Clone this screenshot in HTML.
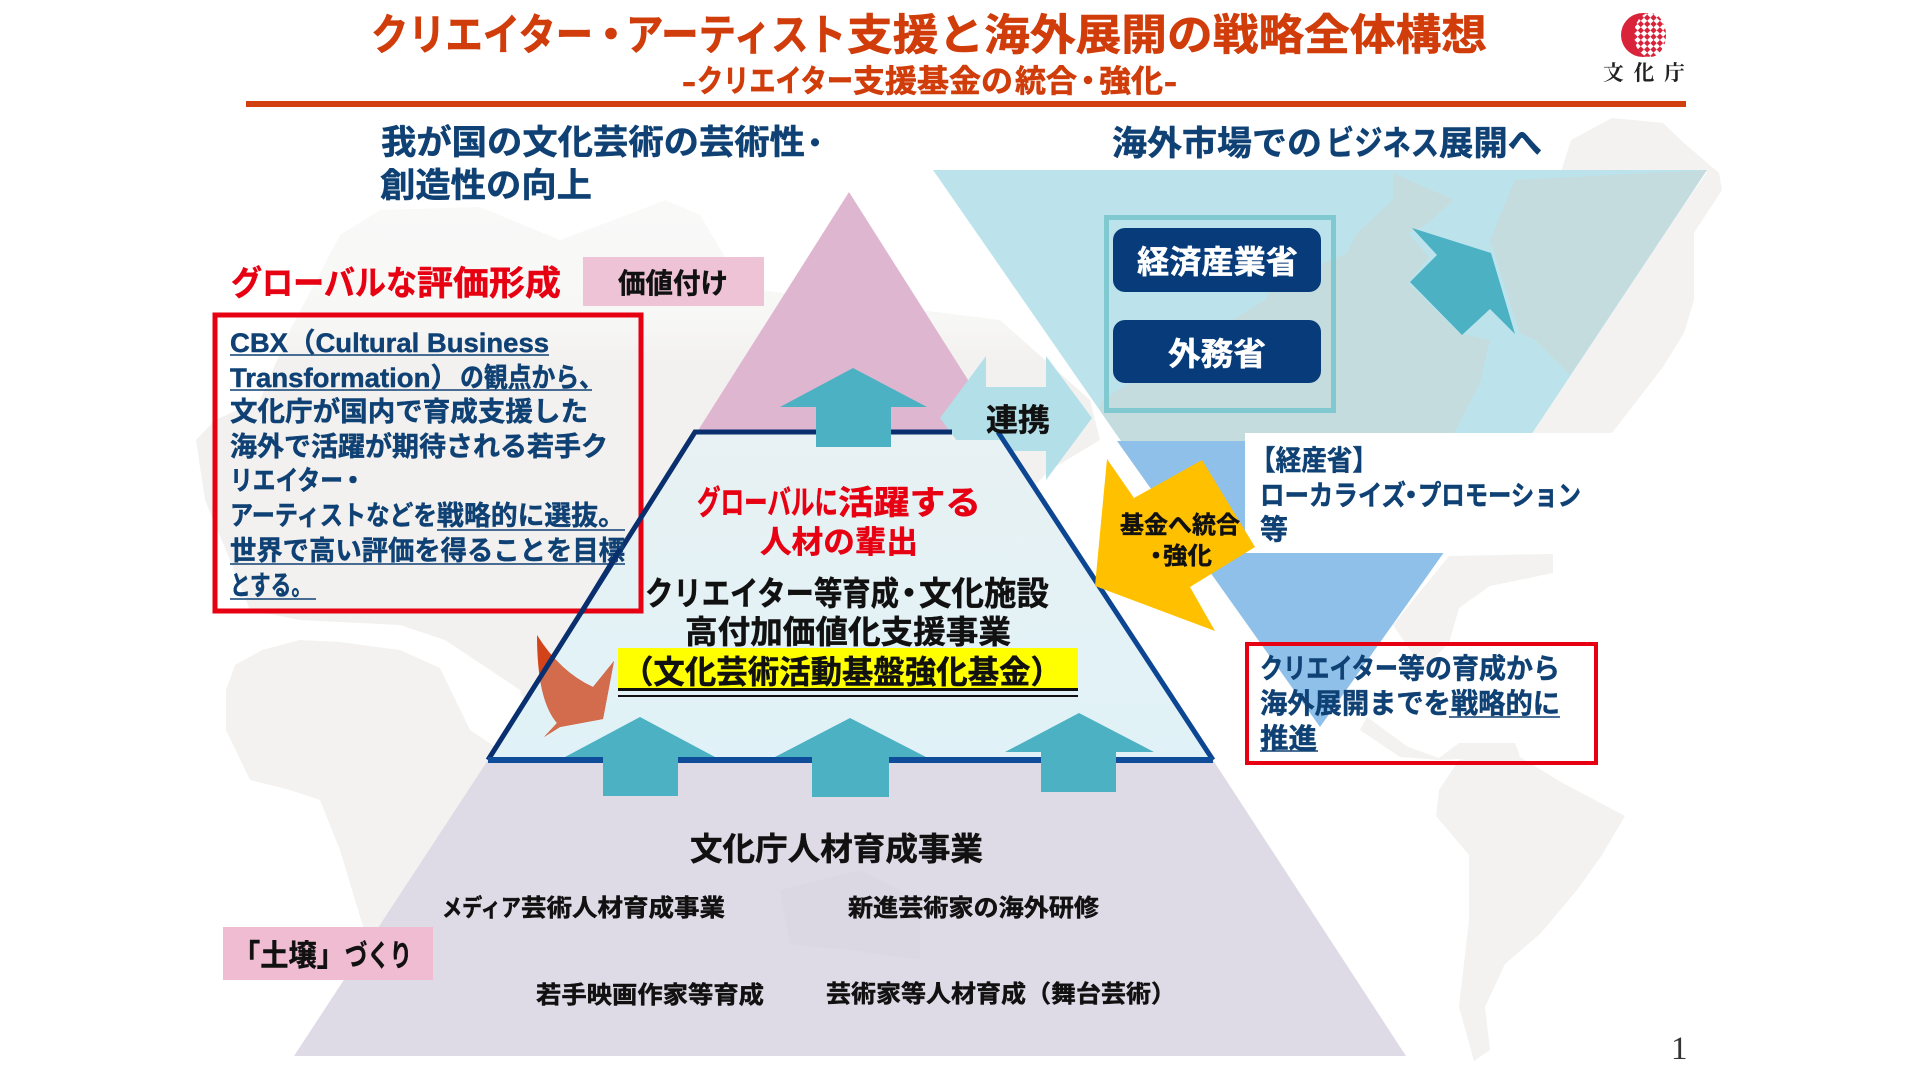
<!DOCTYPE html>
<html lang="ja"><head><meta charset="utf-8"><title>戦略全体構想</title>
<style>
html,body{margin:0;padding:0;background:#fff}
svg{display:block}
text{font-family:"Liberation Sans","Noto Sans CJK JP",sans-serif;font-weight:700}
.b{fill:#0f4174;stroke:#0f4174;stroke-width:.45}
.k{fill:#111;stroke:#111;stroke-width:.45}
.r{fill:#e60012;stroke:#e60012;stroke-width:.45}
.o{fill:#d03c0a;stroke:#d03c0a;stroke-width:.6}
.w{fill:#fff;stroke:#fff;stroke-width:.4}
</style></head><body>
<svg xmlns="http://www.w3.org/2000/svg" width="1920" height="1080" viewBox="0 0 1920 1080">
<defs>
<clipPath id="tealc"><polygon points="933,170 1707,170 1527,441 1121,441"/></clipPath>
<clipPath id="trap"><polygon points="488,760 695,432 998,432 1213,760"/></clipPath>
<clipPath id="lav"><polygon points="488,760 1213,760 1406,1056 294,1056"/></clipPath>
<linearGradient id="tg" x1="0" y1="0" x2="0" y2="1"><stop offset="0" stop-color="#e8f1f3"/><stop offset="1" stop-color="#e0f2f7"/></linearGradient>
<linearGradient id="eu" x1="0" y1="0" x2="0" y2="1"><stop offset="0" stop-color="#f9f9f8"/><stop offset=".22" stop-color="#f7f7f6"/><stop offset=".3" stop-color="#f2f1ef"/><stop offset="1" stop-color="#f2f1ef"/></linearGradient>
<pattern id="chk" width="9" height="9" patternUnits="userSpaceOnUse" patternTransform="rotate(45 1650 35)"><rect width="9" height="9" fill="#fff"/><rect width="4.5" height="4.5" fill="#d9233a"/><rect x="4.5" y="4.5" width="4.5" height="4.5" fill="#d9233a"/></pattern>
</defs>
<rect width="1920" height="1080" fill="#fff"/>

<!-- world map -->
<polygon fill="url(#eu)" points="196,440 215,420 260,400 290,330 340,235 380,210 480,207 560,240 640,210 665,200 700,215 725,257 760,290 840,300 1000,320 1090,400 1100,440 1050,470 1020,500 1050,560 1000,600 950,640 880,700 800,730 720,720 640,740 600,700 540,740 520,690 445,640 400,625 300,620 250,610 230,560 205,500"/>
<g fill="#f3f2f0">
<polygon points="226,690 235,665 262,650 300,640 340,642 400,650 440,668 470,730 500,750 530,745 500,800 470,830 465,870 440,920 405,960 375,965 355,900 340,850 320,800 290,790 250,780 226,730"/>
<polygon points="1439,790 1459,760 1510,751 1561,782 1625,816 1602,855 1577,890 1541,933 1505,964 1485,1007 1490,1050 1474,1061 1459,1007 1469,920 1469,855 1436,816"/>
<polygon points="1449,556 1553,554 1553,573 1490,586 1459,608 1449,643 1423,669 1393,625"/>
<polygon points="1367,717 1408,747 1439,758 1459,743 1515,743 1520,756 1439,760 1400,757 1360,730"/>
<polygon points="1561,172 1571,140 1612,118 1663,123 1684,143 1719,173 1722,190 1694,233 1694,300 1684,333 1663,367 1612,433 1525,433 1707,172"/>
</g>

<!-- heading white backing -->
<rect x="1097" y="110" width="463" height="62" fill="#fff"/>

<!-- teal inverted triangle + blue lower part -->
<polygon points="933,170 1707,170 1527,441 1121,441" fill="#bce3ec"/>
<g clip-path="url(#tealc)" fill="#c4dcdd">
<polygon points="1515,180 1707,170 1570,375 1535,340 1520,333 1490,240"/>
<polygon points="1393,173 1454,200 1423,227 1408,233 1429,257 1408,283 1459,333 1490,340 1480,383 1450,441 1092,441 1102,400 1265,300 1270,287 1347,253 1357,233 1393,200"/>
</g>
<polygon points="1117,441 1523,441 1320,727" fill="#8fc0e9"/>

<!-- white text backing -->
<rect x="1245" y="433" width="355" height="120" fill="#fff"/>

<!-- big lavender base -->
<polygon points="488,760 1213,760 1406,1056 294,1056" fill="#dfdbe6"/>
<g clip-path="url(#lav)" fill="#dcd8e3">
<polygon points="780,890 860,870 920,900 920,960 850,950 790,945"/>
</g>

<!-- pink triangle -->
<polygon points="849,192 697,432 1001,432" fill="#dfb6d0"/>

<!-- cooperation arrow -->
<polygon points="940,418 986,356 986,387 1046,387 1046,356 1092,418 1046,480 1046,451 986,451 986,480" fill="#b2dfe8"/>

<!-- trapezoid -->
<polygon points="488,760 695,432 952,432 952,440 1001,440 1213,760" fill="url(#tg)"/>

<!-- red box left -->
<rect x="215" y="315" width="426" height="296" fill="none" stroke="#e60012" stroke-width="5"/>

<!-- orange arrow -->
<path d="M537,635 Q560,672 593,687 L614,661 L603,719 L560,727 L544,737 L557,723 Q537,700 537,635Z" fill="#d2431a"/>
<g clip-path="url(#trap)"><path d="M537,635 Q560,672 593,687 L614,661 L603,719 L560,727 L544,737 L557,723 Q537,700 537,635Z" fill="#d26c4c"/></g>

<!-- trapezoid outline -->
<path d="M488,760 L695,432 L952,432" fill="none" stroke="#0a2f6e" stroke-width="5"/>
<path d="M998,432 L1213,760" fill="none" stroke="#0c4692" stroke-width="5"/>
<path d="M488,760 L1213,760" fill="none" stroke="#0f4c99" stroke-width="6"/>

<!-- yellow arrow -->
<polygon points="1107,459 1134,498 1202,460 1255,547 1190,587 1215,631 1095,586" fill="#ffc000"/>

<!-- teal up arrows -->
<g fill="#4bb1c3">
<polygon points="853,368 780,407 816,407 816,447 891,447 891,407 927,407"/>
<polygon points="640,717 565,757 603,757 603,796 678,796 678,757 715,757"/>
<polygon points="850,718 775,757 812,757 812,797 889,797 889,757 926,757"/>
<polygon points="1079,713 1005,752 1041,752 1041,792 1116,792 1116,752 1154,752"/>
<polygon points="1412,228 1491,253 1515,334 1490,309 1462,335 1410,282 1437,255"/>
</g>

<!-- ministries -->
<rect x="1106.500" y="217.500" width="227" height="193" fill="none" stroke="#80c9d0" stroke-width="5"/>
<rect x="1113" y="228" width="208" height="64" rx="12" fill="#073b7a"/>
<rect x="1113" y="320" width="208" height="63" rx="12" fill="#073b7a"/>

<!-- red box right -->
<rect x="1247" y="644" width="349" height="119" fill="none" stroke="#e60012" stroke-width="4"/>

<!-- boxes -->
<rect x="583" y="257" width="181" height="49" fill="#efc3d6"/>
<rect x="223" y="927" width="210" height="53" fill="#f0bcd2"/>
<rect x="618" y="648" width="460" height="41" fill="#ff0"/>
<rect x="618" y="688" width="460" height="3" fill="#111"/>
<rect x="618" y="695" width="460" height="2" fill="#111"/>

<!-- header -->
<g class="o" font-size="43">
<text class="o" x="371" y="50" textLength="222" lengthAdjust="spacingAndGlyphs">クリエイター</text>
<text class="o" x="611" y="50" text-anchor="middle">・</text>
<text class="o" x="626" y="50" textLength="220" lengthAdjust="spacingAndGlyphs">アーティスト</text>
<text class="o" x="847" y="50" textLength="640" lengthAdjust="spacingAndGlyphs">支援と海外展開の戦略全体構想</text>
</g>
<g font-size="31">
<text class="o" x="682" y="92" textLength="14" lengthAdjust="spacingAndGlyphs">-</text>
<text class="o" x="697" y="92" textLength="156" lengthAdjust="spacingAndGlyphs">クリエイター</text>
<text class="o" x="853" y="92" textLength="160" lengthAdjust="spacingAndGlyphs">支援基金の</text>
<text class="o" x="1015" y="92" textLength="62" lengthAdjust="spacingAndGlyphs">統合</text>
<text class="o" x="1088" y="92" text-anchor="middle">・</text>
<text class="o" x="1099" y="92" textLength="64" lengthAdjust="spacingAndGlyphs">強化</text>
<text class="o" x="1164" y="92" textLength="13" lengthAdjust="spacingAndGlyphs">-</text>
</g>
<rect x="246" y="101" width="1440" height="6" fill="#d2400f"/>

<!-- logo -->
<circle cx="1643" cy="35" r="22" fill="#d9233a"/>
<ellipse cx="1650" cy="35" rx="16" ry="22" fill="url(#chk)"/>
<text x="1603" y="80" font-size="21" textLength="82" style="font-family:'Noto Serif CJK SC',serif;font-weight:700" fill="#222">文化庁</text>

<!-- headings -->
<g font-size="34">
<text class="b" x="381" y="154" textLength="424" lengthAdjust="spacingAndGlyphs">我が国の文化芸術の芸術性</text>
<text class="b" x="815" y="154" text-anchor="middle" font-size="30">・</text>
<text class="b" x="380" y="197" textLength="212" lengthAdjust="spacingAndGlyphs">創造性の向上</text>
<text class="b" x="1112" y="155" textLength="210" lengthAdjust="spacingAndGlyphs">海外市場での</text>
<text class="b" x="1326" y="155" textLength="113" lengthAdjust="spacingAndGlyphs">ビジネス</text>
<text class="b" x="1439" y="155" textLength="103" lengthAdjust="spacingAndGlyphs">展開へ</text>
<text class="r" x="231" y="295" textLength="186" lengthAdjust="spacingAndGlyphs">グローバルな</text>
<text class="r" x="417" y="295" textLength="144" lengthAdjust="spacingAndGlyphs">評価形成</text>
</g>
<text class="k" x="618" y="293" font-size="28" textLength="110" lengthAdjust="spacingAndGlyphs">価値付け</text>

<!-- left box text -->
<g font-size="27">
<text class="b" x="230" y="352" textLength="319" lengthAdjust="spacingAndGlyphs">CBX（Cultural Business</text>
<text class="b" x="230" y="387" textLength="228" lengthAdjust="spacingAndGlyphs">Transformation）</text>
<text class="b" x="460" y="387" textLength="143" lengthAdjust="spacingAndGlyphs">の観点から、</text>
<text class="b" x="230" y="421" textLength="358" lengthAdjust="spacingAndGlyphs">文化庁が国内で育成支援した</text>
<text class="b" x="230" y="456" textLength="378" lengthAdjust="spacingAndGlyphs">海外で活躍が期待される若手ク</text>
<text class="b" x="230" y="490" textLength="113" lengthAdjust="spacingAndGlyphs">リエイター</text>
<text class="b" x="353" y="490" text-anchor="middle">・</text>
<text class="b" x="230" y="525" textLength="136" lengthAdjust="spacingAndGlyphs">アーティスト</text>
<text class="b" x="366" y="525" textLength="71" lengthAdjust="spacingAndGlyphs">などを</text>
<text class="b" x="437" y="525" textLength="188" lengthAdjust="spacingAndGlyphs">戦略的に選抜。</text>
<text class="b" x="230" y="560" textLength="395" lengthAdjust="spacingAndGlyphs">世界で高い評価を得ることを目標</text>
<text class="b" x="230" y="595" textLength="82" lengthAdjust="spacingAndGlyphs">とする。</text>
</g>
<g stroke="#0f4174" stroke-width="1.500">
<line x1="230" y1="355" x2="549" y2="355"/>
<line x1="230" y1="390" x2="592" y2="390"/>
<line x1="437" y1="530" x2="625" y2="530"/>
<line x1="230" y1="564" x2="625" y2="564"/>
<line x1="230" y1="599" x2="316" y2="599"/>
</g>
<path d="M620,549 L581,613" stroke="#0a2f6e" stroke-width="5" fill="none"/>

<!-- centre text -->
<text class="k" x="986" y="431" font-size="31" textLength="64" lengthAdjust="spacingAndGlyphs">連携</text>
<g font-size="33">
<text class="r" x="697" y="514" textLength="141" lengthAdjust="spacingAndGlyphs">グローバルに</text>
<text class="r" x="838" y="514" textLength="143" lengthAdjust="spacingAndGlyphs">活躍する</text>
</g>
<text class="r" x="760" y="553" font-size="31" textLength="158" lengthAdjust="spacingAndGlyphs">人材の輩出</text>
<g font-size="33">
<text class="k" x="645" y="605" textLength="254" lengthAdjust="spacingAndGlyphs">クリエイター等育成</text>
<text class="k" x="909" y="605" text-anchor="middle">・</text>
<text class="k" x="919" y="605" textLength="130" lengthAdjust="spacingAndGlyphs">文化施設</text>
</g>
<text class="k" x="685" y="643" font-size="32" textLength="326" lengthAdjust="spacingAndGlyphs">高付加価値化支援事業</text>
<text class="k" x="622" y="683" font-size="32" textLength="440" lengthAdjust="spacingAndGlyphs">（文化芸術活動基盤強化基金）</text>

<!-- ministries text -->
<text class="w" x="1137" y="273" font-size="32" textLength="161" lengthAdjust="spacingAndGlyphs">経済産業省</text>
<text class="w" x="1168" y="365" font-size="32" textLength="98" lengthAdjust="spacingAndGlyphs">外務省</text>

<!-- yellow arrow text -->
<text class="k" x="1120" y="533" font-size="24" textLength="120" lengthAdjust="spacingAndGlyphs">基金へ統合</text>
<text class="k" x="1156" y="564" font-size="24" text-anchor="middle">・</text>
<text class="k" x="1163" y="564" font-size="24" textLength="49" lengthAdjust="spacingAndGlyphs">強化</text>

<!-- right text -->
<g font-size="28">
<text class="b" x="1250" y="470" textLength="128" lengthAdjust="spacingAndGlyphs">【経産省】</text>
<text class="b" x="1260" y="505" textLength="146" lengthAdjust="spacingAndGlyphs">ローカライズ</text>
<text class="b" x="1411" y="505" text-anchor="middle">・</text>
<text class="b" x="1418" y="505" textLength="163" lengthAdjust="spacingAndGlyphs">プロモーション</text>
<text class="b" x="1260" y="539">等</text>
<text class="b" x="1260" y="678" textLength="138" lengthAdjust="spacingAndGlyphs">クリエイター</text>
<text class="b" x="1398" y="678" textLength="162" lengthAdjust="spacingAndGlyphs">等の育成から</text>
<text class="b" x="1260" y="713" textLength="300" lengthAdjust="spacingAndGlyphs">海外展開までを戦略的に</text>
<text class="b" x="1260" y="748" textLength="57" lengthAdjust="spacingAndGlyphs">推進</text>
</g>
<g stroke="#0f4174" stroke-width="1.500">
<line x1="1449" y1="717" x2="1560" y2="717"/>
<line x1="1260" y1="751" x2="1318" y2="751"/>
</g>

<!-- base text -->
<text class="k" x="690" y="860" font-size="32" textLength="293" lengthAdjust="spacingAndGlyphs">文化庁人材育成事業</text>
<text class="k" x="442" y="916" font-size="24" textLength="79" lengthAdjust="spacingAndGlyphs">メディア</text>
<text class="k" x="521" y="916" font-size="24" textLength="204" lengthAdjust="spacingAndGlyphs">芸術人材育成事業</text>
<text class="k" x="848" y="916" font-size="24" textLength="251" lengthAdjust="spacingAndGlyphs">新進芸術家の海外研修</text>
<text class="k" x="536" y="1003" font-size="24" textLength="228" lengthAdjust="spacingAndGlyphs">若手映画作家等育成</text>
<text class="k" x="826" y="1002" font-size="24" textLength="350" lengthAdjust="spacingAndGlyphs">芸術家等人材育成（舞台芸術）</text>
<text class="k" x="232" y="966" font-size="30" textLength="113" lengthAdjust="spacingAndGlyphs">「土壌」</text>
<text class="k" x="345" y="966" font-size="30" textLength="67" lengthAdjust="spacingAndGlyphs">づくり</text>

<text x="1671" y="1059" font-size="33" fill="#333" style="font-family:'Liberation Serif',serif;font-weight:400">1</text>
</svg>
</body></html>
